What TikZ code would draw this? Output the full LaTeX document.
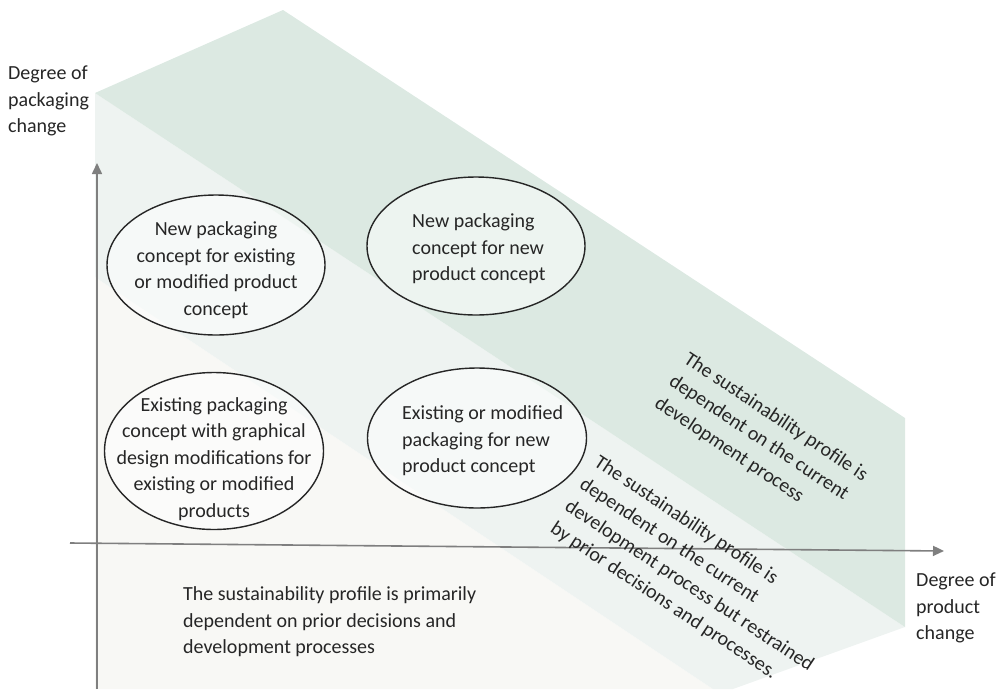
\documentclass[tikz,border=0pt]{standalone}
\usepackage{fontspec}
\setmainfont{Carlito}
\usetikzlibrary{shapes.geometric,arrows.meta}
\definecolor{bandgreen}{RGB}{220,233,226}
\definecolor{bandlight}{RGB}{238,243,241}
\definecolor{bandpale}{RGB}{248,248,245}
\definecolor{txtc}{RGB}{38,38,38}
\definecolor{axisc}{RGB}{127,127,127}
\begin{document}
\begin{tikzpicture}[x=1pt,y=-1pt,
  txt/.style={text=txtc, font=\fontsize{20}{26.5}\selectfont, inner sep=0pt},
  bubble/.style={ellipse, draw=txtc, line width=1.4pt, fill=white, fill opacity=0.5, inner sep=0pt},
  axis/.style={draw=axisc, line width=1.6pt, -{Triangle[length=11pt,width=10pt]}}]
\useasboundingbox (0,0) rectangle (1004,689);
% bands
\fill[bandpale] (95,277) -- (713,689) -- (95,689) -- cycle;
\fill[bandlight] (95,93) -- (905,627) -- (733,689) -- (713,689) -- (95,277) -- cycle;
\fill[bandgreen] (95,93) -- (283,10) -- (905,418) -- (905,627) -- cycle;
% axes
\coordinate (yo) at (97,689);
\coordinate (yt) at (97,163);
\draw[axis] (yo) -- (yt);
\coordinate (xo) at (70,543);
\coordinate (xt) at (944,551);
\draw[axis] (xo) -- (xt);
% ellipses
\node[bubble, minimum width=218pt, minimum height=140pt] (e1) at (216,265) {};
\node[bubble, minimum width=218pt, minimum height=138pt] (e2) at (476,246) {};
\node[bubble, minimum width=219pt, minimum height=157pt] (e3) at (214,451) {};
\node[bubble, minimum width=219pt, minimum height=140pt] (e4) at (477,438) {};
% ellipse texts
\node[txt, align=center] (t1) at (216,270) {New packaging\\concept for existing\\or modified product\\concept};
\node[txt, align=left, anchor=west] (t2) at (412,249) {New packaging\\concept for new\\product concept};
\node[txt, align=center] (t3) at (214,459) {Existing packaging\\concept with graphical\\design modifications for\\existing or modified\\products};
\node[txt, align=left, anchor=west] (t4) at (402,441) {Existing or modified\\packaging for new\\product concept};
% axis labels
\node[txt, align=left, anchor=west] (ly) at (8,101) {Degree of\\packaging\\change};
\node[txt, align=left, anchor=west] (lx) at (916,608) {Degree of\\product\\change};
% band texts
\node[txt, align=left, anchor=west] (b1) at (183,622) {The sustainability profile is primarily\\dependent on prior decisions and\\development processes};
\node[txt, align=left, anchor=west, rotate=-33.5] (b2) at (574,494) {The sustainability profile is\\dependent on the current\\development process but restrained\\by prior decisions and processes.};
\node[txt, align=left, anchor=west, rotate=-33.5] (b3) at (671,380) {The sustainability profile is\\dependent on the current\\development process};
\end{tikzpicture}
\end{document}
